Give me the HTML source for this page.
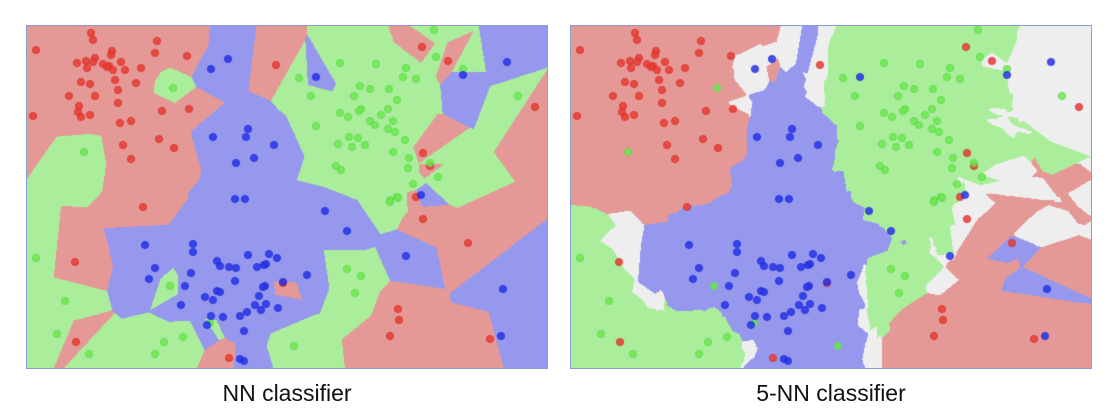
<!DOCTYPE html>
<html><head><meta charset="utf-8">
<style>
html,body{margin:0;padding:0;background:#fff;width:1120px;height:420px;overflow:hidden;font-family:"Liberation Sans",sans-serif;}
canvas{position:absolute;top:25px;border:1px solid #8a9bd6;}
.lbl{position:absolute;top:380px;font-size:23px;color:#111;text-align:center;width:520px;}
</style></head><body>
<div>
<canvas id="c1" width="520" height="342" style="left:26px"></canvas>
<div class="lbl" style="left:27px">NN classifier</div>
</div>
<div>
<canvas id="c2" width="520" height="342" style="left:570px"></canvas>
<div class="lbl" style="left:571px">5-NN classifier</div>
</div>
<script>
const redPts = [[64,7],[66,14],[130,15],[9,24],[85,25],[84,29],[128,27],[160,30],[68,32],[59,35],[50,37],[66,36],[76,38],[82,40],[80,41],[94,36],[60,42],[86,44],[98,44],[114,42],[249,39],[54,56],[88,54],[63,58],[109,57],[91,64],[42,70],[68,70],[91,77],[52,80],[51,86],[54,91],[63,89],[6,90],[135,85],[162,83],[104,95],[93,97],[132,113],[96,119],[147,122],[104,133],[395,21],[421,35],[508,81],[396,127],[403,140],[389,171],[116,181],[48,236],[49,316],[202,332],[256,257],[396,193],[441,217],[371,283],[372,294],[363,310],[463,313]];
const greenPts = [[146,62],[57,126],[407,4],[313,37],[349,38],[272,52],[379,42],[376,51],[389,53],[409,31],[436,43],[333,60],[343,63],[362,63],[284,70],[327,70],[370,74],[491,70],[313,87],[321,91],[334,83],[332,85],[361,83],[354,89],[343,95],[348,99],[366,95],[361,103],[368,106],[289,100],[322,111],[331,112],[311,118],[325,121],[338,119],[378,114],[366,126],[382,132],[381,142],[309,140],[314,144],[403,137],[411,151],[386,158],[370,171],[363,174],[9,232],[38,275],[143,260],[30,308],[62,328],[137,316],[156,311],[128,328],[183,297],[363,176],[371,172],[320,243],[334,250],[328,267],[267,320]];
const bluePts = [[201,33],[184,43],[221,103],[186,111],[219,111],[247,119],[227,132],[209,137],[208,173],[218,173],[289,51],[480,36],[436,49],[394,169],[118,219],[166,218],[166,226],[128,242],[122,253],[164,247],[158,260],[154,279],[190,235],[193,240],[202,241],[209,242],[221,229],[242,228],[250,232],[230,241],[237,239],[239,238],[208,255],[190,265],[193,266],[178,271],[186,274],[238,260],[236,261],[232,270],[228,279],[239,278],[234,284],[251,282],[220,286],[213,290],[184,290],[196,291],[180,299],[217,305],[213,333],[217,335],[256,256],[298,185],[320,205],[379,230],[280,249],[476,263],[474,310]];
const classes=[redPts,greenPts,bluePts];
const regionCol=[[229,153,150],[170,238,156],[150,152,238]];
const tieCol=[238,238,238];
const ptFill=['rgba(232,60,50,0.85)','rgba(110,232,80,0.85)','rgba(40,50,235,0.85)'];
const ptStroke=['#d8302a','#5cd84a','#2030d0'];
const W=520,H=342;
const sx=x=>x*W/520, sy=y=>y*H/342;
const all=[];classes.forEach((a,c)=>a.forEach(p=>all.push([sx(p[0]),sy(p[1]),c])));
function draw(id,k){
  const ctx=document.getElementById(id).getContext('2d');
  const img=ctx.createImageData(W,H);const d=img.data;const n=all.length;
  const best=new Float64Array(k),bc=new Int32Array(k);
  for(let y=0;y<H;y++)for(let x=0;x<W;x++){
    for(let i=0;i<k;i++){best[i]=1e18;bc[i]=-1;}
    for(let j=0;j<n;j++){const dx=all[j][0]-x-0.5,dy=all[j][1]-y-0.5,dd=dx*dx+dy*dy;
      if(dd<best[k-1]){let i=k-1;while(i>0&&best[i-1]>dd){best[i]=best[i-1];bc[i]=bc[i-1];i--;}best[i]=dd;bc[i]=all[j][2];}}
    const cnt=[0,0,0];for(let i=0;i<k;i++)cnt[bc[i]]++;
    let m=Math.max(...cnt),w=cnt.indexOf(m),tie=cnt.filter(v=>v===m).length>1;
    const col=tie?tieCol:regionCol[w];const o=(y*W+x)*4;
    d[o]=col[0];d[o+1]=col[1];d[o+2]=col[2];d[o+3]=255;}
  ctx.putImageData(img,0,0);
  classes.forEach((a,c)=>a.forEach(p=>{ctx.beginPath();ctx.arc(sx(p[0]),sy(p[1]),3.6,0,Math.PI*2);ctx.fillStyle=ptFill[c];ctx.fill();ctx.lineWidth=0.8;ctx.strokeStyle=ptStroke[c];ctx.stroke();}));
}
draw('c1',1);draw('c2',5);
</script>
</body></html>
